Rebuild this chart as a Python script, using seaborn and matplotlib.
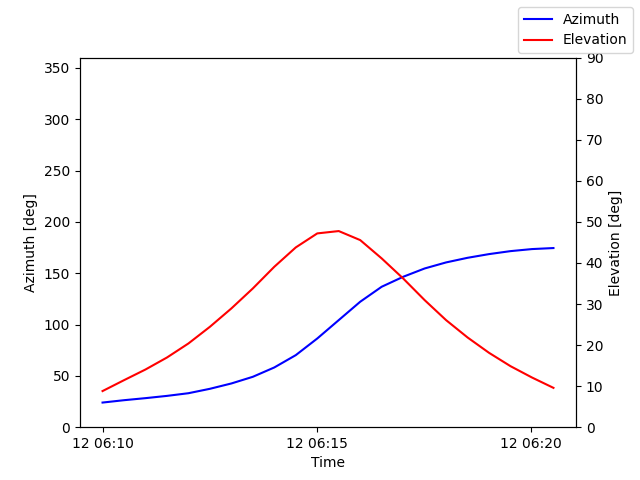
import matplotlib

matplotlib.use("Agg")
import matplotlib.dates as mdates  # noqa: E402
import matplotlib.pyplot as plt  # noqa: E402
import pandas as pd  # noqa: E402
import seaborn as sns  # noqa: E402

# pass samples, one every ~30 s
times = pd.date_range("2023-05-12 06:10:00", "2023-05-12 06:20:32", periods=22)
azimuth = [24.0, 26.3, 28.3, 30.5, 33.1, 37.4, 42.6, 49.1, 58.2, 70.2, 86.4,
           104.3, 122.2, 136.8, 146.5, 154.6, 160.5, 165.0, 168.6, 171.5, 173.5, 174.5]
elevation = [8.8, 11.45, 14.05, 16.97, 20.39, 24.45, 28.92, 33.79, 39.07, 43.78, 47.19,
             47.76, 45.56, 41.1, 36.22, 30.95, 26.07, 21.85, 18.11, 14.86, 12.1, 9.58]

df = pd.DataFrame({"time": times, "azimuth": azimuth, "elevation": elevation})

fig, ax = plt.subplots(figsize=(6.4, 4.8), dpi=100)
ax2 = ax.twinx()

sns.lineplot(data=df, x="time", y="azimuth", ax=ax, color="blue", linewidth=1.5,
             label="Azimuth", legend=False)
sns.lineplot(data=df, x="time", y="elevation", ax=ax2, color="red", linewidth=1.5,
             label="Elevation", legend=False)

ax.set_ylim(0, 360)
ax2.set_ylim(0, 90)
ax.set_yticks(range(0, 351, 50))
ax2.set_yticks(range(0, 91, 10))

ax.xaxis.set_major_locator(mdates.MinuteLocator(byminute=range(0, 60, 5)))
ax.xaxis.set_major_formatter(mdates.DateFormatter("%d %H:%M"))

ax.set_xlabel("Time")
ax.set_ylabel("Azimuth [deg]")
ax2.set_ylabel("Elevation [deg]")

handles = ax.get_lines() + ax2.get_lines()
fig.legend(handles, ["Azimuth", "Elevation"], loc="upper right")

fig.savefig("out.png", dpi=100)
